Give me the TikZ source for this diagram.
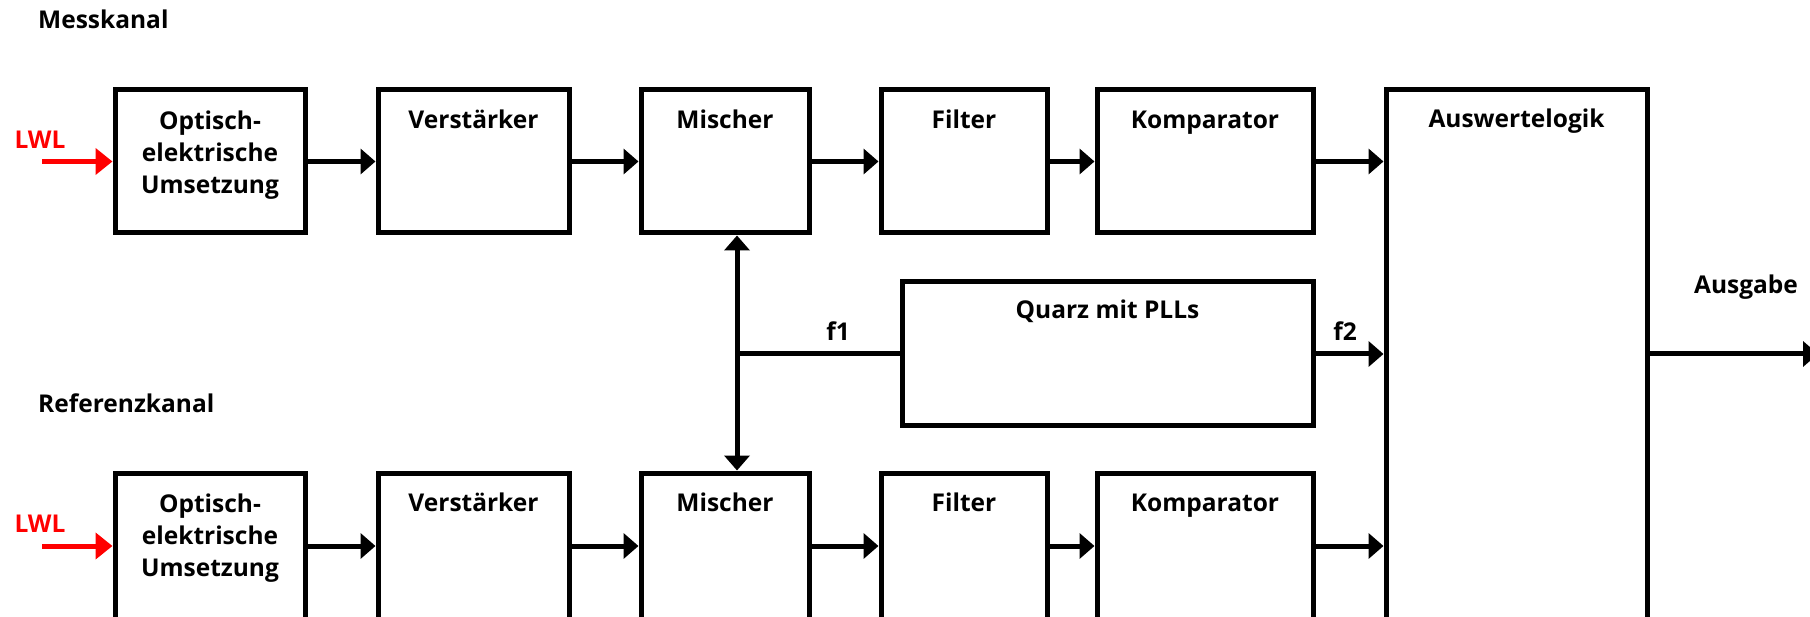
\documentclass[tikz,border=0pt]{standalone}
\usepackage{fontspec}
\setmainfont{Open Sans}
\usetikzlibrary{arrows.meta}
\begin{document}
\begin{tikzpicture}[x=1pt,y=-1pt,
  box/.style={draw, line width=5pt, minimum width=#1, inner sep=0pt},
  conn/.style={line width=5pt, -{Triangle[length=15pt,width=25pt]}},
  redconn/.style={line width=5pt, draw=red, -{Triangle[length=17pt,width=26pt]}, red},
  lbl/.style={font=\fontsize{24.5}{32}\selectfont\bfseries, inner sep=0pt, anchor=base},
  mlbl/.style={font=\fontsize{24.5}{32}\selectfont\bfseries, inner sep=0pt, align=center, anchor=north}
]
\useasboundingbox (0,0) rectangle (1810,617);
% top row
\node[box=190pt, minimum height=143pt] (b1) at (210,161.5) {};
\node[box=191pt, minimum height=143pt] (b2) at (473.5,161.5) {};
\node[box=168pt, minimum height=143pt] (b3) at (725,161.5) {};
\node[box=166pt, minimum height=143pt] (b4) at (964,161.5) {};
\node[box=216pt, minimum height=143pt] (b5) at (1205,161.5) {};
% bottom row
\node[box=190pt, minimum height=150pt] (c1) at (210,548) {};
\node[box=191pt, minimum height=150pt] (c2) at (473.5,548) {};
\node[box=168pt, minimum height=150pt] (c3) at (725,548) {};
\node[box=166pt, minimum height=150pt] (c4) at (964,548) {};
\node[box=216pt, minimum height=150pt] (c5) at (1205,548) {};
% logic and quartz
\node[box=261pt, minimum height=550pt] (aw) at (1516.5,365) {};
\node[box=411pt, minimum height=144pt] (q) at (1107.5,354) {};
% texts
\node[mlbl] (t1) at (210,111) {Optisch-\\elektrische\\Umsetzung};
\node[lbl] (t2) at (473.5,128.75) {Verstärker};
\node[lbl] (t3) at (725,128.75) {Mischer};
\node[lbl] (t4) at (964,128.75) {Filter};
\node[lbl] (t5) at (1205,128.75) {Komparator};
\node[mlbl] (u1) at (210,494) {Optisch-\\elektrische\\Umsetzung};
\node[lbl] (u2) at (473.5,511) {Verstärker};
\node[lbl] (u3) at (725,511) {Mischer};
\node[lbl] (u4) at (964,511) {Filter};
\node[lbl] (u5) at (1205,511) {Komparator};
\node[lbl] (tq) at (1107.5,318.75) {Quarz mit PLLs};
\node[lbl] (ta) at (1516.5,127.75) {Auswertelogik};
\node[lbl, anchor=base west] (mk) at (38,28.75) {Messkanal};
\node[lbl, anchor=base west] (rk) at (38,412.75) {Referenzkanal};
\node[lbl, text=red] (l1) at (40,148.75) {LWL};
\node[lbl, text=red] (l2) at (40,532.75) {LWL};
\node[lbl] (f1) at (838,341) {f1};
\node[lbl] (f2) at (1345,341) {f2};
\node[lbl] (ag) at (1746,293.75) {Ausgabe};
% coordinates
\coordinate (rowB) at (0,546);
\coordinate (in1) at (42,161.5);
\coordinate (in2) at (42,546);
\coordinate (jn) at (737,354);
\coordinate (out) at (1818,354);
% connectors top
\draw[redconn] (in1) -- (b1.west);
\draw[conn] (b1.east) -- (b2.west);
\draw[conn] (b2.east) -- (b3.west);
\draw[conn] (b3.east) -- (b4.west);
\draw[conn] (b4.east) -- (b5.west);
\draw[conn] (b5.east) -- (aw.west |- b5.east);
% connectors bottom
\draw[redconn] (in2) -- (c1.west |- rowB);
\draw[conn] (c1.east |- rowB) -- (c2.west |- rowB);
\draw[conn] (c2.east |- rowB) -- (c3.west |- rowB);
\draw[conn] (c3.east |- rowB) -- (c4.west |- rowB);
\draw[conn] (c4.east |- rowB) -- (c5.west |- rowB);
\draw[conn] (c5.east |- rowB) -- (aw.west |- rowB);
% quartz
\draw[line width=5pt] (q.west) -- (jn);
\draw[conn] (jn) -- (b3.south -| jn);
\draw[conn] (jn) -- (c3.north -| jn);
\draw[conn] (q.east) -- (aw.west |- q.east);
\draw[conn] (aw.east |- q.east) -- (out);
\end{tikzpicture}
\end{document}
